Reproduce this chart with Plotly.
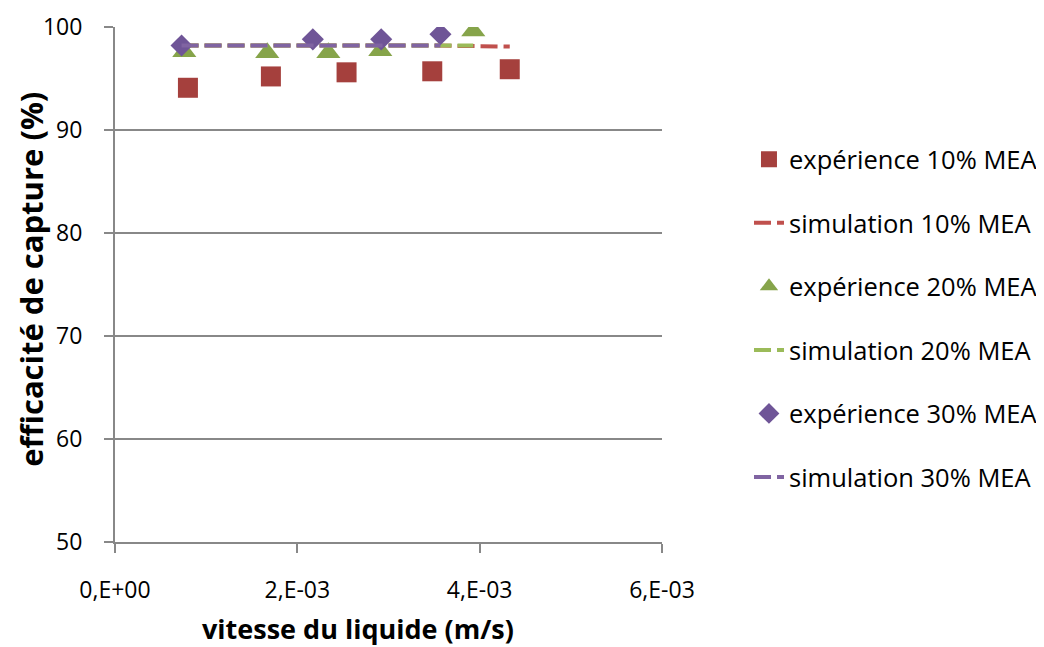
import plotly.graph_objects as go

# Experimental data
x_exp10 = [0.80e-3, 1.71e-3, 2.54e-3, 3.48e-3, 4.33e-3]
y_exp10 = [94.1, 95.2, 95.6, 95.7, 95.9]
x_exp20 = [0.76e-3, 1.67e-3, 2.34e-3, 2.91e-3, 3.93e-3]
y_exp20 = [97.6, 97.5, 97.5, 97.7, 99.6]
x_exp30 = [0.73e-3, 2.17e-3, 2.92e-3, 3.57e-3]
y_exp30 = [98.2, 98.8, 98.8, 99.3]

# Simulation data
x_sim10 = [0.73e-3, 1.71e-3, 2.54e-3, 3.48e-3, 4.33e-3]
y_sim10 = [98.2, 98.2, 98.2, 98.2, 98.1]
x_sim20 = [0.73e-3, 1.67e-3, 2.34e-3, 2.91e-3, 3.93e-3]
y_sim20 = [98.2, 98.2, 98.2, 98.2, 98.2]
x_sim30 = [0.73e-3, 2.17e-3, 2.92e-3, 3.57e-3]
y_sim30 = [98.2, 98.2, 98.2, 98.2]

x_tickvals = [0, 2e-3, 4e-3, 6e-3]
x_ticktext = ["0,E+00", "2,E-03", "4,E-03", "6,E-03"]
y_tickvals = [50, 60, 70, 80, 90, 100]

x_title = "vitesse du liquide (m/s)"
y_title = "efficacité de capture (%)"

RED_M, RED_L = "#A5403D", "#C0504D"
GRN_M, GRN_L = "#86A44A", "#9BBB59"
PUR_M, PUR_L = "#6F5597", "#8064A2"
DASH = "17px,6px"

FONT = "Open Sans, Lato, sans-serif"

fig = go.Figure()
fig.add_trace(go.Scatter(x=x_exp10, y=y_exp10, mode="markers", name="expérience 10% MEA",
                         legendgroup="a",
                         marker=dict(symbol="square", size=20, color=RED_M)))
fig.add_trace(go.Scatter(x=x_sim10, y=y_sim10, mode="lines", name="simulation 10% MEA",
                         legendgroup="b",
                         line=dict(color=RED_L, width=4, dash=DASH)))
fig.add_trace(go.Scatter(x=x_exp20, y=y_exp20, mode="markers", name="expérience 20% MEA",
                         legendgroup="c",
                         marker=dict(symbol="triangle-up", size=21, color=GRN_M)))
fig.add_trace(go.Scatter(x=x_sim20, y=y_sim20, mode="lines", name="simulation 20% MEA",
                         legendgroup="d",
                         line=dict(color=GRN_L, width=4, dash=DASH)))
fig.add_trace(go.Scatter(x=x_exp30, y=y_exp30, mode="markers", name="expérience 30% MEA",
                         legendgroup="e",
                         marker=dict(symbol="diamond", size=17, color=PUR_M)))
fig.add_trace(go.Scatter(x=x_sim30, y=y_sim30, mode="lines", name="simulation 30% MEA",
                         legendgroup="f",
                         line=dict(color=PUR_L, width=4, dash=DASH)))

fig.update_layout(
    width=1036, height=639,
    margin=dict(l=107, r=382, t=19, b=105, autoexpand=False),
    paper_bgcolor="white", plot_bgcolor="white",
    font=dict(family=FONT, size=23, color="#000000"),
    legend=dict(x=1.159, y=0.788, xanchor="left", yanchor="top",
                traceorder="grouped", tracegroupgap=27.4,
                font=dict(size=25.5), bgcolor="rgba(0,0,0,0)"),
    xaxis=dict(range=[0, 6e-3], tickvals=x_tickvals, ticktext=x_ticktext,
               showgrid=False, zeroline=False, showline=True, linecolor="#888888",
               linewidth=2, ticks="outside", ticklen=9, tickwidth=2, tickcolor="#888888",
               ticklabelstandoff=17, automargin=False),
    yaxis=dict(range=[50, 100], tickvals=y_tickvals,
               showgrid=True, gridcolor="#888888", gridwidth=2,
               zeroline=False, showline=True, linecolor="#888888", linewidth=2,
               ticks="outside", ticklen=9, tickwidth=2, tickcolor="#888888",
               ticklabelstandoff=17, automargin=False),
    annotations=[
        dict(text="<b>" + x_title + "</b>", xref="paper", yref="paper",
             x=0.444, y=-0.1675, xanchor="center", yanchor="middle",
             showarrow=False, font=dict(family=FONT, size=27)),
        dict(text="<b>" + y_title + "</b>", xref="paper", yref="paper",
             x=-0.1536, y=0.511, xanchor="center", yanchor="middle", textangle=-90,
             showarrow=False, font=dict(family=FONT, size=31)),
    ],
)

fig.write_html("out.html")
